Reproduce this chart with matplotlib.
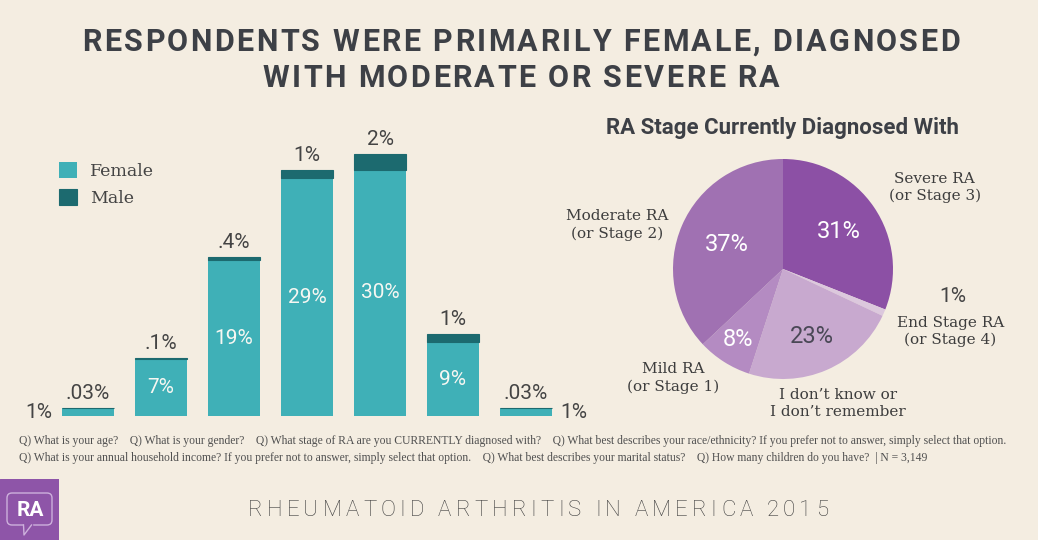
import matplotlib
matplotlib.use("Agg")
import matplotlib.pyplot as plt
from matplotlib.patches import FancyBboxPatch, Rectangle
import numpy as np

# ---------------- data ----------------
female_pct = [1, 7, 19, 29, 30, 9, 1]
male_pct = [0.03, 0.1, 0.4, 1, 2, 1, 0.03]
female_labels = ["1%", "7%", "19%", "29%", "30%", "9%", "1%"]
male_labels = [".03%", ".1%", ".4%", "1%", "2%", "1%", ".03%"]
series_names = ["Female", "Male"]

stage_names = ["Severe RA\n(or Stage 3)", "End Stage RA\n(or Stage 4)",
               "I don\u2019t know or\nI don\u2019t remember",
               "Mild RA\n(or Stage 1)", "Moderate RA\n(or Stage 2)"]
stage_pct = [31, 1, 23, 8, 37]
stage_labels = ["31%", "1%", "23%", "8%", "37%"]

title_lines = ["RESPONDENTS WERE PRIMARILY FEMALE, DIAGNOSED",
               "WITH MODERATE OR SEVERE RA"]
pie_title = "RA Stage Currently Diagnosed With"
footnotes = [
    "Q) What is your age?    Q) What is your gender?    Q) What stage of RA are you CURRENTLY diagnosed with?    "
    "Q) What best describes your race/ethnicity? If you prefer not to answer, simply select that option.",
    "Q) What is your annual household income? If you prefer not to answer, simply select that option.    "
    "Q) What best describes your marital status?    Q) How many children do you have?  | N = 3,149",
]
footer = "RHEUMATOID ARTHRITIS IN AMERICA 2015"

# ---------------- style ----------------
W, H = 1038, 540
BG = "#F4EDE1"
FEMALE_C = "#3FB0B7"
MALE_C = "#1C6A6F"
PIE_C = ["#8C50A5", "#DCC8DD", "#C8A9CF", "#B48BC2", "#A071B2"]
DARK = "#3D4046"
NUMFONT = "Roboto"
SERIF = "Liberation Serif"
SERIF2 = "DejaVu Serif"

fig = plt.figure(figsize=(W / 100, H / 100), dpi=100, facecolor=BG)
renderer = fig.canvas.get_renderer()


def fx(x):
    return x / W


def fy(y):
    return 1 - y / H


def adv(s, props):
    t1 = fig.text(0, 0, "x" + s + "x", **props)
    t2 = fig.text(0, 0, "xx", **props)
    w = t1.get_window_extent(renderer).width - t2.get_window_extent(renderer).width
    t1.remove()
    t2.remove()
    return w


def tracked(s, xc, y, props, track):
    total = adv(s, props) + track * (len(s) - 1)
    x0 = xc - total / 2
    for i, ch in enumerate(s):
        if ch == " ":
            continue
        px = x0 + adv(s[:i], props) + i * track
        fig.text(fx(px), fy(y), ch, ha="left", va="center", **props)


# ---------------- title ----------------
tprops = dict(fontsize=22, fontweight="bold", family=NUMFONT, color=DARK)
t_track = (877 - adv(title_lines[0], tprops)) / (len(title_lines[0]) - 1)
tracked(title_lines[0], 521, 42, tprops, t_track)
tracked(title_lines[1], 521, 78, tprops, t_track)

# ---------------- bar chart ----------------
left_px, right_px, bot_px, top_px = 15, 600, 416, 110
ax = fig.add_axes([fx(left_px), fy(bot_px), (right_px - left_px) / W, (bot_px - top_px) / H])
ax.set_facecolor("none")
x = np.arange(len(female_pct))
bw = 0.7
b1 = ax.bar(x, female_pct, width=bw, color=FEMALE_C, label=series_names[0], linewidth=0)
b2 = ax.bar(x, male_pct, width=bw, bottom=female_pct, color=MALE_C, label=series_names[1],
            edgecolor=MALE_C, linewidth=0.8)
ax.set_xlim(-(88 - left_px) / 73, (right_px - 88) / 73)
ax.set_ylim(0, (bot_px - top_px) / 8.2)
ax.axis("off")

nprops = dict(fontsize=15, family=NUMFONT, fontweight="normal")
for i in range(len(x)):
    tot = female_pct[i] + male_pct[i]
    ax.annotate(male_labels[i], xy=(x[i], tot), xytext=(0, 6.5), textcoords="offset points",
                ha="center", va="baseline", color="#444444", **nprops)
    if i == 0:
        ax.annotate(female_labels[i], xy=(x[i] - bw / 2, 0), xytext=(-7.5, -1.5),
                    textcoords="offset points", ha="right", va="baseline",
                    color="#444444", **nprops)
    elif i == len(x) - 1:
        ax.annotate(female_labels[i], xy=(x[i] + bw / 2, 0), xytext=(6, -1.5),
                    textcoords="offset points", ha="left", va="baseline",
                    color="#444444", **nprops)
    else:
        ax.text(x[i], female_pct[i] / 2, female_labels[i], ha="center", va="center",
                color="#F7F7F2", **nprops)

leg = ax.legend(handles=[b1, b2], loc="upper left",
                bbox_to_anchor=(fx(59), fy(162)), bbox_transform=fig.transFigure,
                frameon=False, prop={"family": SERIF2, "size": 12.5},
                handlelength=1.05, handleheight=1.05, handletextpad=0.75,
                labelspacing=0.5, borderpad=0, borderaxespad=0)
for t in leg.get_texts():
    t.set_color("#444444")

# ---------------- pie chart ----------------
cx, cy, R = 783, 269, 110
half = 250
pax = fig.add_axes([fx(cx - half), fy(cy + half), 2 * half / W, 2 * half / H])
pax.set_facecolor("none")
wedges, _ = pax.pie(stage_pct, colors=PIE_C, startangle=90, counterclock=False,
                    radius=1, wedgeprops={"linewidth": 0})
lim = half / R
pax.set_xlim(-lim, lim)
pax.set_ylim(-lim, lim)
pax.axis("off")

pct_dist = [0.61, None, 0.67, 0.76, 0.56]
pct_col = ["white", None, "#4A4856", "white", "white"]
for w, d, c, lab in zip(wedges, pct_dist, pct_col, stage_labels):
    if d is None:
        continue
    th = np.deg2rad((w.theta1 + w.theta2) / 2)
    pax.text(d * np.cos(th), d * np.sin(th), lab, ha="center", va="center",
             fontsize=17, family=NUMFONT, fontweight="normal", color=c)

lab_pos = [(1.38, 0.74), (1.52, -0.57), (0.5, -1.22), (-1.0, -0.99), (-1.51, 0.40)]
for (lx, ly), name in zip(lab_pos, stage_names):
    pax.text(lx, ly, name, ha="center", va="center", fontsize=11, family=SERIF2,
             color="#3D3D3D", linespacing=1.25)
pax.text(1.54, -0.25, stage_labels[1], ha="center", va="center",
         color="#444444", **nprops)

fig.text(fx(782), fy(128), pie_title, ha="center", va="center", fontsize=16,
         fontweight="bold", family=NUMFONT, color=DARK)

# ---------------- footnotes ----------------
for i, line in enumerate(footnotes):
    fig.text(fx(19), fy(441 + 16.5 * i), line, ha="left", va="center", fontsize=8.4,
             family=SERIF, color="#505050")

# ---------------- footer with letter spacing ----------------
fprops = dict(fontsize=16, family=NUMFONT, fontweight="light", color="#3F3F3F")
f_track = (828 - 248 - adv(footer, fprops)) / (len(footer) - 1)
tracked(footer, 538, 510, fprops, f_track)

# ---------------- logo ----------------
lax = fig.add_axes([0, 0, 59 / W, 61 / H])
lax.set_xlim(0, 59)
lax.set_ylim(0, 61)
lax.axis("off")
lax.add_patch(Rectangle((0, 0), 59, 61, color="#8E55A8"))
lax.add_patch(FancyBboxPatch((7, 15), 45, 32, boxstyle="round,pad=0,rounding_size=5",
                             fill=False, edgecolor="#CDB0DC", linewidth=1))
lax.add_patch(Rectangle((23.5, 14.2), 8, 1.6, color="#8E55A8"))
lax.plot([23.5, 24, 31.5], [15, 5, 15], color="#CDB0DC", linewidth=1)
lax.text(30, 30, "RA", ha="center", va="center", color="white", fontsize=15,
         fontweight="bold", family=NUMFONT)

fig.savefig("out.png", dpi=100, facecolor=BG)
